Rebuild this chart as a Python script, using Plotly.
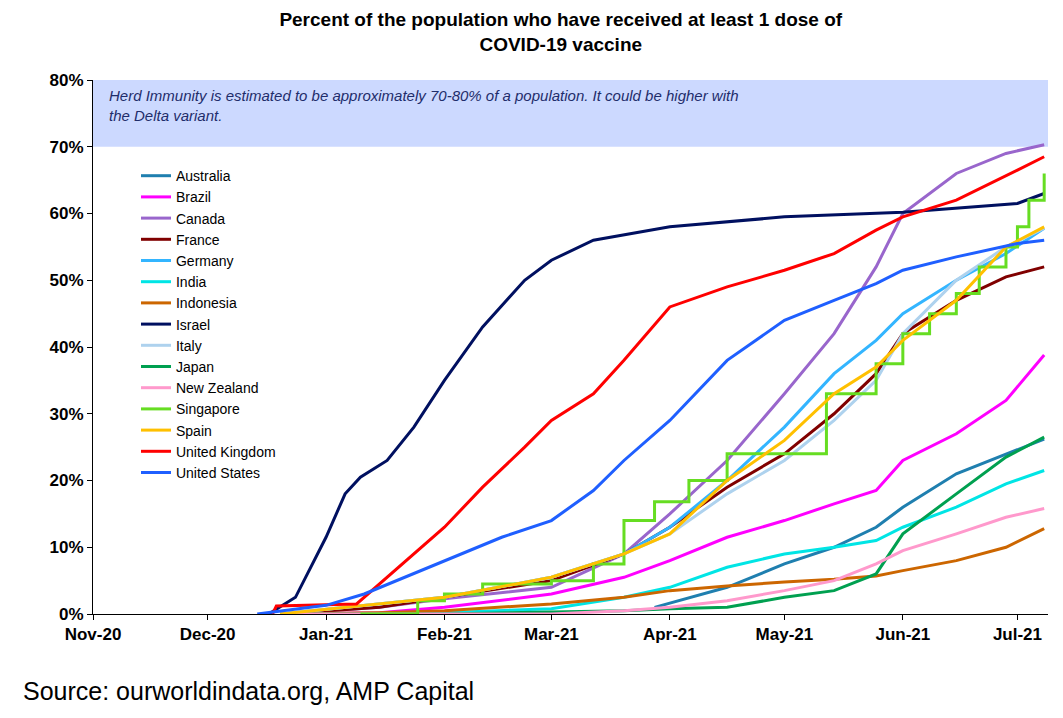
import plotly.graph_objects as go

# % of population with at least 1 dose
israel_d = ['2020-12-17', '2020-12-24', '2021-01-01', '2021-01-06', '2021-01-10', '2021-01-17', '2021-01-24', '2021-02-01',
            '2021-02-11', '2021-02-22', '2021-03-01', '2021-03-12', '2021-04-01', '2021-05-01', '2021-06-01', '2021-07-01', '2021-07-08']
israel_v = [0, 2.5, 11.5, 18, 20.5, 23, 28, 35, 43, 50, 53, 56, 58, 59.5, 60.2, 61.5, 63]

uk_d = ['2020-12-18', '2020-12-19', '2021-01-09', '2021-01-15', '2021-01-25', '2021-02-01', '2021-02-11', '2021-02-22', '2021-03-01',
        '2021-03-12', '2021-03-20', '2021-04-01', '2021-04-16', '2021-05-01', '2021-05-14', '2021-05-25', '2021-06-01', '2021-06-15',
        '2021-07-01', '2021-07-08']
uk_v = [0, 1.2, 1.5, 4.5, 9.5, 13, 19, 25, 29, 33, 38, 46, 49, 51.5, 54, 57.5, 59.5, 62, 66.5, 68.5]

us_d = ['2020-12-14', '2021-01-01', '2021-01-11', '2021-02-01', '2021-02-16', '2021-03-01', '2021-03-12', '2021-03-20', '2021-04-01',
        '2021-04-16', '2021-05-01', '2021-05-14', '2021-05-25', '2021-06-01', '2021-06-15', '2021-07-01', '2021-07-08']
us_v = [0, 1.3, 3, 8, 11.5, 14, 18.5, 23, 29, 38, 44, 47, 49.5, 51.5, 53.5, 55.5, 56]

grid = ['2020-12-20', '2021-01-15', '2021-02-01', '2021-03-01', '2021-03-20', '2021-04-01', '2021-04-16', '2021-05-01', '2021-05-14',
        '2021-05-25', '2021-06-01', '2021-06-15', '2021-06-28', '2021-07-08']
canada_v = [0, 1, 2.3, 4, 9, 15, 23, 33, 42, 52, 60, 66, 69, 70.3]
france_v = [0, 1, 2.5, 5, 9, 13, 19, 24, 30, 36, 42, 47, 50.5, 52]
germany_v = [0, 1.5, 2.5, 5.5, 9, 13, 20, 28, 36, 41, 45, 50, 54, 57.8]
italy_v = [0, 1.5, 2.5, 5.5, 9, 12, 18, 23, 29, 35, 42, 50, 55, 57.8]
spain_v = [0, 1.5, 2.5, 5.5, 9, 12, 20, 26, 33, 37, 41, 47, 55, 58]
brazil_v = [0, 0.2, 1, 3, 5.5, 8, 11.5, 14, 16.5, 18.5, 23, 27, 32, 38.8]
india_v = [0, 0, 0.2, 0.8, 2.5, 4, 7, 9, 10, 11, 13, 16, 19.5, 21.5]
indonesia_v = [0, 0.2, 0.5, 1.5, 2.5, 3.5, 4.2, 4.8, 5.2, 5.7, 6.5, 8, 10, 12.8]
japan_v = [0, 0, 0, 0.3, 0.5, 0.8, 1, 2.5, 3.5, 6, 12, 18, 23.5, 26.5]
nz_v = [0, 0, 0, 0, 0.5, 1, 2, 3.5, 5, 7.5, 9.5, 12, 14.5, 15.8]

australia_d = ['2021-03-28', '2021-04-16', '2021-05-01', '2021-05-14', '2021-05-25', '2021-06-01', '2021-06-15', '2021-06-28', '2021-07-08']
australia_v = [1, 4, 7.5, 10, 13, 16, 21, 24, 26.2]

singapore_d = ['2021-01-10', '2021-01-25', '2021-02-01', '2021-02-11', '2021-03-01', '2021-03-12', '2021-03-20', '2021-03-28',
               '2021-04-06', '2021-04-16', '2021-05-09', '2021-05-12', '2021-05-25', '2021-06-01', '2021-06-08', '2021-06-15',
               '2021-06-21', '2021-06-28', '2021-07-01', '2021-07-04', '2021-07-08']
singapore_v = [0, 2, 3, 4.5, 5, 7.5, 14, 16.8, 20, 24, 24, 33, 37.5, 42, 45, 48, 52, 55, 58, 62, 66]

series = [
    ('Australia', australia_d, australia_v, '#1F7FAF', 'linear'),
    ('Brazil', grid, brazil_v, '#FF00FF', 'linear'),
    ('Canada', grid, canada_v, '#9966CC', 'linear'),
    ('France', grid, france_v, '#800000', 'linear'),
    ('Germany', grid, germany_v, '#33B5FF', 'linear'),
    ('India', grid, india_v, '#00E5E5', 'linear'),
    ('Indonesia', grid, indonesia_v, '#CC6600', 'linear'),
    ('Israel', israel_d, israel_v, '#001060', 'linear'),
    ('Italy', grid, italy_v, '#AED2EE', 'linear'),
    ('Japan', grid, japan_v, '#00A050', 'linear'),
    ('New Zealand', grid, nz_v, '#FF99CC', 'linear'),
    ('Singapore', singapore_d, singapore_v, '#66DD22', 'hv'),
    ('Spain', grid, spain_v, '#FFC000', 'linear'),
    ('United Kingdom', uk_d, uk_v, '#FF0000', 'linear'),
    ('United States', us_d, us_v, '#1F5FFF', 'linear'),
]

fig = go.Figure()
for name, d, v, c, shape in series:
    fig.add_trace(go.Scatter(x=d, y=v, name=name, mode='lines', line=dict(color=c, width=3, shape=shape)))

fig.add_shape(type='rect', xref='paper', yref='y', x0=0, x1=1, y0=70, y1=80,
              fillcolor='#CCD9FF', line_width=0, layer='below')
fig.add_annotation(xref='paper', yref='y', x=0.015, y=76.2, xanchor='left', yanchor='middle', align='left', showarrow=False,
                   text='<i>Herd Immunity is estimated to be approximately 70-80% of a population. It could be higher with<br>the Delta variant.</i>',
                   font=dict(size=15, color='#1F2D6B', family='Arial'))
fig.add_annotation(xref='paper', yref='paper', x=-0.075, y=-0.145, xanchor='left', yanchor='middle', showarrow=False,
                   text='Source: ourworldindata.org, AMP Capital', font=dict(size=25, color='black', family='Arial'))

fig.update_layout(
    width=1063, height=718, plot_bgcolor='white', paper_bgcolor='white',
    margin=dict(l=85, r=23, t=72, b=112),
    font=dict(family='Arial', color='black'),
    title=dict(text='<b>Percent of the population who have received at least 1 dose of<br>COVID-19 vaccine</b>',
               x=0.52, xanchor='center', y=0.975, yanchor='top', font=dict(size=19)),
    legend=dict(x=0.045, y=0.85, xanchor='left', yanchor='top', bgcolor='rgba(0,0,0,0)',
                font=dict(size=14), tracegroupgap=0, itemwidth=30),
    showlegend=True,
)
fig.update_xaxes(type='date', range=['2020-11-01', '2021-07-09'], dtick='M1', tick0='2020-11-01', tickformat='%b-%y',
                 showgrid=False, showline=True, linecolor='black', ticks='outside', tickcolor='black',
                 tickfont=dict(size=17, family='Arial', weight='bold'))
fig.update_yaxes(range=[0, 80], dtick=10, ticksuffix='%', showgrid=False, showline=True, linecolor='black',
                 ticks='outside', tickcolor='black', tickfont=dict(size=17, family='Arial', weight='bold'))

fig.write_html("out.html")
